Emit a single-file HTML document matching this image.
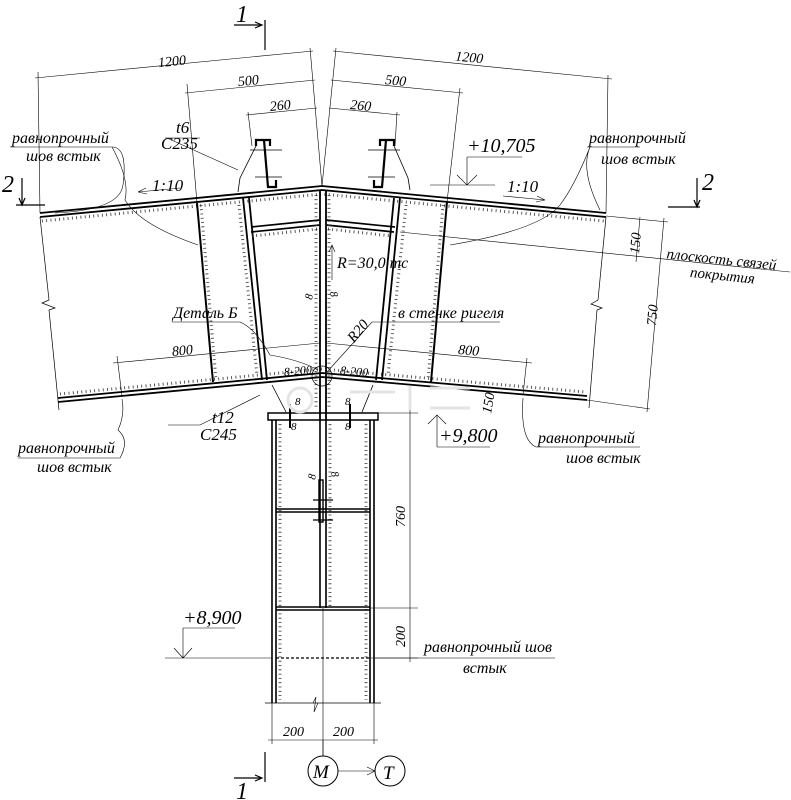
<!DOCTYPE html>
<html><head><meta charset="utf-8"><style>
html,body{margin:0;padding:0;background:#fff;}
svg{display:block;}
text{font-family:"Liberation Serif",serif;font-style:italic;fill:#000;}
</style></head><body>
<svg width="791" height="800" viewBox="0 0 791 800" xmlns="http://www.w3.org/2000/svg">
<g fill="none" stroke="#000">
<path d="M40,213 L322,186 L606,213" stroke-width="1.8"/>
<path d="M40,217 L322,190 L606,217" stroke-width="1.8"/>
<path d="M42,221 L322,194 L604,221" stroke-width="3" stroke-dasharray="0.8 3.5" stroke="#333"/>
<path d="M58,398 L322,373 L587,396" stroke-width="1.8"/>
<path d="M58,402 L322,377 L587,400" stroke-width="1.8"/>
<path d="M60,394 L322,369 L585,392" stroke-width="3" stroke-dasharray="0.8 3.5" stroke="#333"/>
<path d="M40,217 L49,300 L42,303 L55,308 L49,310 L59,410" stroke-width="0.7"/>
<path d="M606,217 L598,300 L591,304 L602,308 L597,310 L589,408" stroke-width="0.7"/>
<path d="M197,203 L213,382" stroke-width="2"/>
<path d="M243,198 L262,380 M249,198 L267,380" stroke-width="1.8"/>
<path d="M400,198 L382,380 M394,198 L376,380" stroke-width="1.8"/>
<path d="M447,202 L431,382" stroke-width="2"/>
<path d="M320,190 L320,420 M326,190 L326,420" stroke-width="1.8"/>
<path d="M251,227 L320,220 M251,232 L320,225 M326,220 L395,227 M326,225 L394,232" stroke-width="1.7"/>
<path d="M239,205 L257,375 M329,195 L329,410 M316,195 L316,410 M406,205 L388,375 M201,205 L216,380 M443,205 L428,380 M252,236 L318,229 M328,229 L392,236" stroke-width="3" stroke-dasharray="0.8 3.5" stroke="#333"/>
<path d="M256,146 L256,140 L270,140 L270,146 M264,140 L268,187 L276,187 L276,180" stroke-width="2.2"/>
<path d="M256,146 L240,178 L238,192" stroke-width="0.8"/>
<path d="M394,146 L394,140 L380,140 L380,146 M386,140 L382,187 L374,187 L374,180" stroke-width="2.2"/>
<path d="M394,146 L408,178 L410,190" stroke-width="0.8"/>
<path d="M250,150 L282,150 M255,177 L282,177 M368,150 L400,150 M368,177 L395,177" stroke-width="0.7"/>
<path d="M272,385 L286,412 M373,385 L362,412" stroke-width="0.8"/>
<rect x="268" y="413" width="110" height="7" stroke-width="1.5"/>
<path d="M290,404 L290,428 M350,404 L350,428" stroke-width="2"/>
<circle cx="322" cy="376" r="10" stroke-width="0.7"/>
<path d="M272,420 L272,703 M276,420 L276,703 M370,420 L370,703 M374,420 L374,703" stroke-width="1.6"/>
<path d="M280,420 L280,700 M366,420 L366,700 M330,420 L330,608" stroke-width="3" stroke-dasharray="0.8 3.5" stroke="#333"/>
<path d="M320,420 L320,608 M326,420 L326,608" stroke-width="1.6"/>
<path d="M276,509 L370,509 M276,512 L370,512 M276,607 L370,607 M276,610 L370,610" stroke-width="1.6"/>
<path d="M276,658 L370,658" stroke-width="1.3" stroke-dasharray="3 2"/>
<rect x="319" y="480" width="4" height="42" stroke-width="1.4"/>
<path d="M313,500 L333,500 M313,520 L333,520" stroke-width="1.2"/>
<path d="M323,608 L323,756" stroke-width="0.6"/>
<path d="M265,703 L381,703" stroke-width="0.7"/>
<path d="M313,703 L316,697 L314,712 L318,703" stroke-width="0.6"/>
<g stroke-width="0.6">
<path d="M40,213 L38,72 M322,186 L310,48 M322,186 L336,48 M606,213 L608,75"/>
<path d="M35,78 L313,51 M333,51 L612,79"/>
<path d="M187,84 L197,203 M460,88 L447,202 M185,93 L315,80 M331,80 L463,93"/>
<path d="M248,112 L252,146 M397,112 L395,146 M246,115 L317,108 M329,108 L400,115"/>
<path d="M117,356 L122,396 M113,363 L320,343 M326,343 L532,363 M527,358 L523,395"/>
<path d="M606,216 L668,222 M587,400 L650,409 M640,217 L636,262 M664,218 L647,412"/>
<path d="M400,232 L790,272"/>
<path d="M378,413 L418,413 M370,608 L418,608 M370,658 L418,658 M410,410 L410,662"/>
<path d="M272,703 L272,744 M374,703 L374,744 M268,740 L378,740"/>
<path d="M323,756 L323,740"/>
<path d="M338,771 L375,771 M367,767 L375,771 L367,775"/>
<path d="M467,157 L522,157 M467,157 L467,185 M457,175 L467,185 L477,175 M430,185 L495,185"/>
<path d="M437,447 L490,447 M437,447 L437,415 M428,424 L437,415 L446,424"/>
<path d="M183,628 L235,628 M183,628 L183,658 M174,648 L183,658 L192,648 M165,658 L272,658 M374,658 L555,658"/>
<path d="M138,192 L180,188 M138,192 L146,188 M138,192 L147,194"/>
<path d="M503,196 L545,200 M545,200 L537,196 M545,200 L536,202"/>
<path d="M10,147 L112,147 Q128,147 123,185 Q120,210 55,213"/>
<path d="M112,147 Q130,180 125,200 Q140,225 198,245"/>
<path d="M587,147 L640,147 M590,147 Q580,170 600,210 M590,147 Q575,185 560,205 Q540,230 450,245"/>
<path d="M18,458 L120,458 Q130,440 118,430 Q125,415 122,399"/>
<path d="M536,447 L640,447 M536,447 Q520,440 523,398"/>
<path d="M167,138 L238,170 M168,425 L200,425 L260,395"/>
<path d="M172,322 L240,322 Q255,328 270,355 Q300,360 318,370"/>
<path d="M395,322 L500,322 M395,322 L372,322 L327,372"/>
<path d="M332,280 L332,245 M329,252 L332,245 L335,252"/>
<path d="M165,138 L200,138"/>
<path d="M234,25 L262,25 M255,22 L262,25 L255,28 M265,20 L265,50" stroke-width="1.2"/>
<path d="M234,778 L262,778 M255,775 L262,778 L255,781 M265,752 L265,782" stroke-width="1.2"/>
<path d="M22,178 L22,205 M19,198 L22,205 L25,198 M16,205 L45,205" stroke-width="1.2"/>
<path d="M697,178 L697,207 M694,200 L697,207 L700,200 M668,207 L700,207" stroke-width="1.2"/>
</g>
<circle cx="323" cy="771" r="15" stroke-width="1"/>
<circle cx="390" cy="771" r="15" stroke-width="1"/>
<g stroke="#e4e4e4" stroke-width="3"><circle cx="300" cy="400" r="12"/><path d="M350,392 L395,392 M410,386 L410,410 M430,388 L470,388 M430,408 L470,408"/></g>
</g>
<g font-size="14">
<text x="158" y="66" transform="rotate(-5.5 170 62)">1200</text>
<text x="455" y="62" transform="rotate(5.5 470 60)">1200</text>
<text x="238" y="85" transform="rotate(-5.5 250 82)">500</text>
<text x="385" y="85" transform="rotate(5.5 395 82)">500</text>
<text x="270" y="110" transform="rotate(-5.5 280 108)">260</text>
<text x="350" y="110" transform="rotate(5.5 360 108)">260</text>
<text x="172" y="355" transform="rotate(-5.5 182 352)">800</text>
<text x="458" y="355" transform="rotate(5.5 470 352)">800</text>
<text x="284" y="375" font-size="12" transform="rotate(-5 295 372)">8-200</text>
<text x="340" y="375" font-size="12" transform="rotate(5 350 372)">8-200</text>
<text x="152" y="191" font-size="17">1:10</text>
<text x="507" y="192" font-size="17">1:10</text>
<g font-size="16">
<text x="12" y="143">равнопрочный</text>
<text x="26" y="161">шов встык</text>
<text x="589" y="143">равнопрочный</text>
<text x="601" y="164">шов встык</text>
<text x="18" y="453">равнопрочный</text>
<text x="37" y="472">шов встык</text>
<text x="538" y="443">равнопрочный</text>
<text x="566" y="463">шов встык</text>
<text x="424" y="652">равнопрочный шов</text>
<text x="463" y="673">встык</text>
<text x="173" y="318">Деталь Б</text>
<text x="398" y="318">в стенке ригеля</text>
</g>
<text x="666" y="264" font-size="15" transform="rotate(6 720 262)">плоскость связей</text>
<text x="690" y="280" font-size="15" transform="rotate(6 720 275)">покрытия</text>
<text x="176" y="133" font-size="17">t6</text>
<text x="161" y="149" font-size="17">C235</text>
<text x="212" y="423" font-size="17">t12</text>
<text x="200" y="440" font-size="17">C245</text>
<text x="337" y="268" font-size="16">R=30,0 тс</text>
<text x="343" y="340" font-size="15" transform="rotate(-50 352 330)">R20</text>
<text x="467" y="152" font-size="20">+10,705</text>
<text x="439" y="442" font-size="20">+9,800</text>
<text x="183" y="624" font-size="20">+8,900</text>
<text x="0" y="0" transform="translate(639,254) rotate(-85)">150</text>
<text x="0" y="0" transform="translate(656,326) rotate(-85)">750</text>
<text x="0" y="0" transform="translate(491,414) rotate(-80)">150</text>
<text x="0" y="0" transform="translate(405,527) rotate(-90)">760</text>
<text x="0" y="0" transform="translate(405,647) rotate(-90)">200</text>
<text x="283" y="736">200</text>
<text x="333" y="736">200</text>
<text x="313" y="778" font-size="19">M</text>
<text x="383" y="779" font-size="19">T</text>
<text x="236" y="22" font-size="24">1</text>
<text x="236" y="799" font-size="24">1</text>
<text x="2" y="192" font-size="24">2</text>
<text x="702" y="190" font-size="24">2</text>
<g font-size="11">
<text x="0" y="0" transform="translate(312,300) rotate(-80)">8</text>
<text x="0" y="0" transform="translate(330,292) rotate(80)">8</text>
<text x="0" y="0" transform="translate(315,480) rotate(-80)">8</text>
<text x="0" y="0" transform="translate(331,472) rotate(80)">8</text>
<text x="291" y="430">8</text><text x="345" y="430">8</text>
<text x="295" y="405">8</text><text x="345" y="405">8</text>
</g>
</g>
</svg>
</body></html>
